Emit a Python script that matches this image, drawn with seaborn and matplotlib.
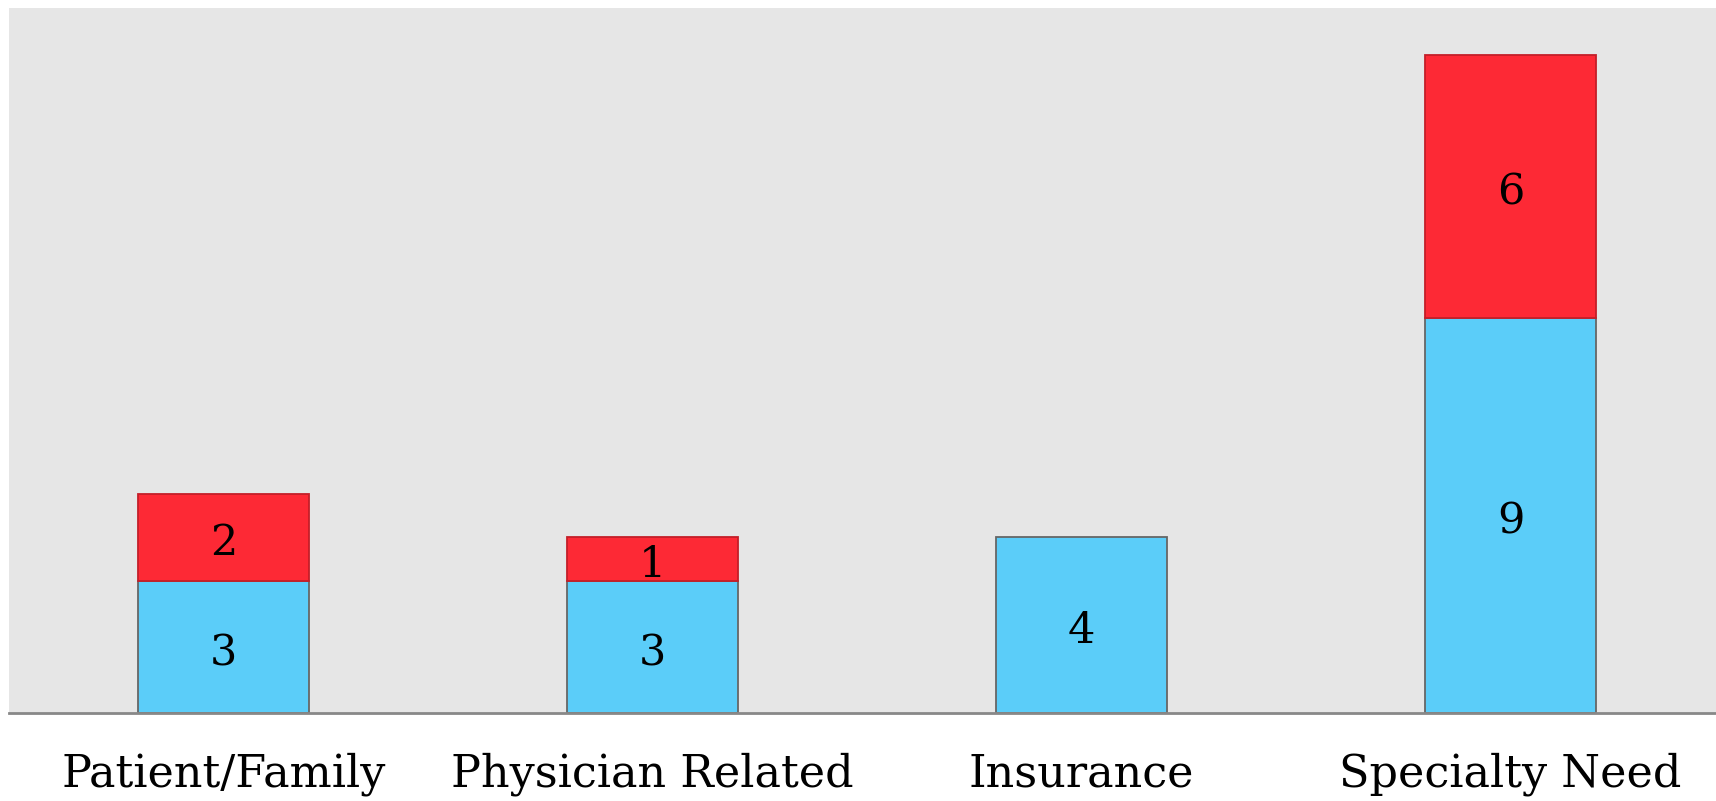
import matplotlib
matplotlib.use("Agg")
import matplotlib.pyplot as plt
import matplotlib.transforms as mtransforms
import seaborn as sns
import pandas as pd

categories = ["Patient/Family", "Physician Related", "Insurance", "Specialty Need"]
blue_values = [3, 3, 4, 9]
red_values = [2, 1, 0, 6]

BLUE = "#5bcdf9"
RED = "#fd2935"

sns.set_theme(style="white")
plt.rcParams["font.family"] = ["DejaVu Serif"]

fig = plt.figure(figsize=(17.16, 8.01), dpi=100)
ax = fig.add_axes([9 / 1716, (801 - 713) / 801, 1 - 9 / 1716, 705 / 801])
ax.set_facecolor("#e6e6e6")

df_blue = pd.DataFrame({"cat": categories, "val": blue_values})
df_red = pd.DataFrame({"cat": categories, "val": red_values, "base": blue_values})
df_red = df_red[df_red["val"] > 0]

sns.barplot(data=df_blue, x="cat", y="val", order=categories, color=BLUE,
            saturation=1, width=0.4, edgecolor="#666666", linewidth=1.3, ax=ax, zorder=2)
sns.barplot(data=df_red, x="cat", y="val", order=categories, color=RED,
            saturation=1, width=0.4, edgecolor="#c41e28", linewidth=1.3, ax=ax,
            bottom=df_red["base"].values, zorder=2)

off = mtransforms.offset_copy(ax.transData, fig=fig, x=0, y=-6, units="dots")
for i, (b, r) in enumerate(zip(blue_values, red_values)):
    ax.text(i, b / 2, str(b), ha="center", va="center", fontsize=31, color="black",
            zorder=3, transform=off)
    if r > 0:
        ax.text(i, b + r / 2, str(r), ha="center", va="center", fontsize=31, color="black",
                zorder=3, transform=off)

ax.set_xlim(-0.5, 3.479)
ax.set_ylim(0, 16.06)
ax.set_xlabel("")
ax.set_ylabel("")
ax.set_yticks([])
ax.tick_params(axis="x", length=0, pad=28, labelsize=32, labelcolor="black")
for s in ["top", "left", "right"]:
    ax.spines[s].set_visible(False)
ax.spines["bottom"].set_color("#888888")
ax.spines["bottom"].set_linewidth(2)
ax.spines["bottom"].set_zorder(4)

fig.savefig("out.png", dpi=100)
